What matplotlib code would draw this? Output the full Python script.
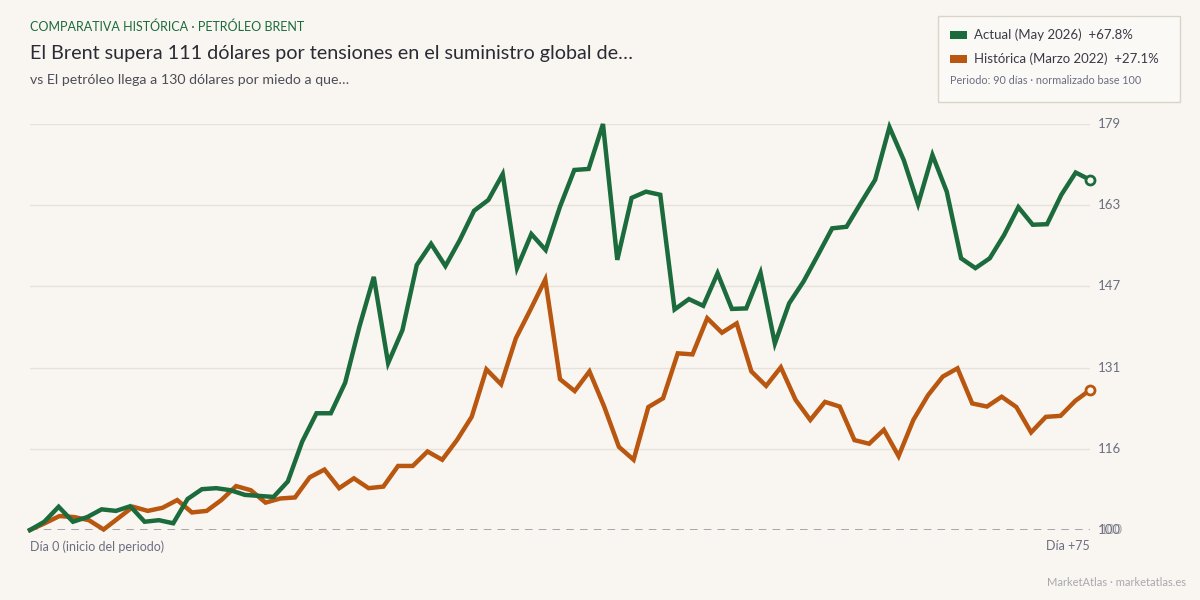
import matplotlib
import numpy as np

matplotlib.use('Agg')

from matplotlib import pyplot  # noqa
from matplotlib.patches import Rectangle  # noqa

# Brent normalizado base 100
actual = [100.0, 101.6, 104.5, 101.6, 102.5, 104.0, 103.7, 104.6, 101.6, 101.9,
          101.3, 106.0, 107.9, 108.1, 107.7, 106.8, 106.6, 106.4, 109.4, 117.1,
          122.6, 122.6, 128.5, 139.4, 149.0, 132.3, 138.7, 151.3, 155.4, 151.1,
          156.1, 161.8, 163.9, 168.9, 150.7, 157.3, 154.2, 162.6, 169.7, 169.9,
          178.6, 152.3, 164.3, 165.5, 164.9, 142.7, 144.7, 143.4, 149.7, 142.8,
          142.9, 149.8, 136.1, 143.9, 148.1, 153.2, 158.4, 158.7, 163.3, 167.8,
          178.0, 171.6, 163.1, 172.6, 165.5, 152.6, 150.7, 152.6, 157.1, 162.5,
          159.1, 159.2, 164.9, 169.2, 167.8]
historica = [100.0, 101.3, 102.7, 102.5, 101.9, 100.1, 102.3, 104.5, 103.7, 104.3,
             105.8, 103.4, 103.7, 105.8, 108.5, 107.7, 105.3, 106.1, 106.3, 110.2,
             111.7, 108.1, 110.0, 108.1, 108.4, 112.4, 112.4, 115.2, 113.6, 117.4,
             121.9, 131.1, 128.2, 137.1, 142.7, 148.5, 129.2, 126.9, 130.7, 123.9,
             116.1, 113.6, 123.8, 125.5, 134.2, 134.0, 141.0, 138.2, 140.0, 130.7,
             127.9, 131.5, 125.2, 121.3, 124.8, 123.9, 117.4, 116.7, 119.4, 114.3,
             121.3, 126.1, 129.7, 131.3, 124.5, 123.9, 125.8, 123.8, 118.9, 121.9,
             122.1, 125.0, 127.1]
n_days = 75
labels = ['Actual (May 2026)', 'Histórica (Marzo 2022)']

GREEN = '#1b6b3c'
ORANGE = '#b9560f'
BG = '#f9f6f1'
GRID = '#e6e1d9'
TICK = '#6b6e80'

pyplot.rcParams['font.family'] = ['Lato', 'DejaVu Sans']

fig = pyplot.figure(figsize=(12, 6), dpi=100)
fig.patch.set_facecolor(BG)
ax = fig.add_axes([30 / 1200, 70 / 600, 1060 / 1200, 406 / 600])
ax.set_facecolor(BG)

ymin = 100
ymax = max(max(actual), max(historica))
ax.set_xlim(0, n_days)
ax.set_ylim(ymin, ymax)
lab_x = (1098 - 30) / 1060 * n_days

ticks = np.linspace(ymin, ymax, 6)
for t in ticks[1:]:
    ax.axhline(t, color=GRID, lw=1, zorder=1)
    ax.text(lab_x, t, f'{t:.0f}', ha='left', va='center',
            fontsize=9.5, color=TICK, clip_on=False)
ax.axhline(100, color='#8f8f98', lw=1.1, ls=(0, (5, 4)), zorder=2)
ax.text(lab_x, 100, '100', ha='left', va='center',
        fontsize=9.5, color=TICK, clip_on=False)
ax.text(lab_x + 0.15, 100, '100', ha='left', va='center',
        fontsize=9.5, color='#8a8a95', alpha=0.7, clip_on=False)

for values, color in [(historica, ORANGE), (actual, GREEN)]:
    x = np.linspace(0, n_days, len(values))
    ax.plot(x, values, color=color, lw=3.2, solid_joinstyle='miter',
            zorder=3, clip_on=False)
    ax.plot(x[-1], values[-1], 'o', ms=6.5, mfc=BG, mec=color, mew=2,
            zorder=4, clip_on=False)

for side in ['top', 'right', 'bottom', 'left']:
    ax.spines[side].set_visible(False)
ax.set_xticks([])
ax.set_yticks([])

ax.text(0, -0.04, 'Día 0 (inicio del periodo)', transform=ax.transAxes,
        ha='left', va='center', fontsize=9, color=TICK)
ax.text(1, -0.04, f'Día +{n_days}', transform=ax.transAxes,
        ha='right', va='center', fontsize=9, color=TICK)

# cabecera
fig.text(30 / 1200, 1 - 27 / 600,
         'COMPARATIVA HISTÓRICA · PETRÓLEO BRENT',
         fontsize=9, color=GREEN, ha='left', va='center')
fig.text(30 / 1200, 1 - 53 / 600,
         'El Brent supera 111 dólares por tensiones en el suministro global de…',
         fontsize=14.2, color='#2b2b35', ha='left', va='center')
fig.text(30 / 1200, 1 - 80 / 600,
         'vs El petróleo llega a 130 dólares por miedo a que…',
         fontsize=10.2, color='#4d4d57', ha='left', va='center')

# leyenda
fig.patches.append(Rectangle((938 / 1200, 1 - 102 / 600), 242 / 1200, 86 / 600,
                             transform=fig.transFigure, facecolor='#fbf9f6',
                             edgecolor='#d9d4ca', lw=1))
changes = [(actual[-1] - 100), (historica[-1] - 100)]
for i, (label, color, ch) in enumerate(zip(labels, [GREEN, ORANGE], changes)):
    yc = 1 - (35 + i * 24) / 600
    fig.patches.append(Rectangle((950 / 1200, yc - 3.5 / 600), 17 / 1200,
                                 7 / 600, transform=fig.transFigure,
                                 facecolor=color, edgecolor='none'))
    fig.text(974 / 1200, yc, f'{label}  +{ch:.1f}%', fontsize=9.5,
             color='#3a3a48', ha='left', va='center')
fig.text(950 / 1200, 1 - 81 / 600,
         'Periodo: 90 días · normalizado base 100',
         fontsize=7.8, color='#6b6e80', ha='left', va='center')

fig.text(1186 / 1200, 1 - 583 / 600, 'MarketAtlas · marketatlas.es',
         fontsize=8, color='#a8a8ae', ha='right', va='center')

pyplot.savefig('out.png', dpi=100, facecolor=BG)
pyplot.close()
